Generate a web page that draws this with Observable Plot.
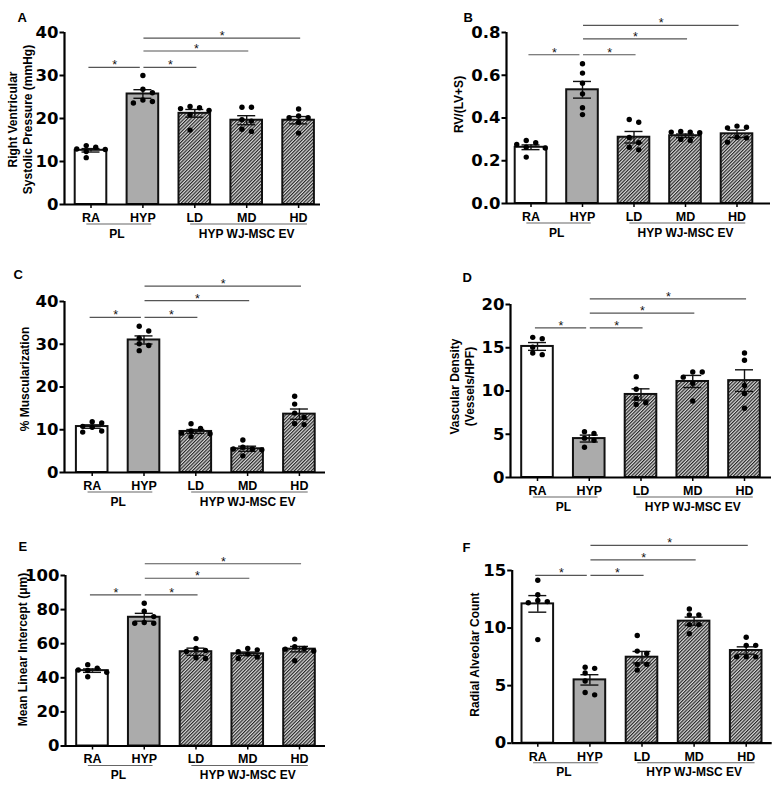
<!DOCTYPE html>
<html><head><meta charset="utf-8">
<script src="https://cdn.jsdelivr.net/npm/d3@7"></script>
<script src="https://cdn.jsdelivr.net/npm/@observablehq/plot@0.6"></script>
<style>
html,body{margin:0;padding:0;background:#fff;}
#fig{position:relative;width:780px;height:791px;overflow:hidden;background:#fff;}
</style></head><body>
<svg width="0" height="0" style="position:absolute">
 <defs>
  <pattern id="hatch" patternUnits="userSpaceOnUse" width="2.4" height="2.4" patternTransform="rotate(45)">
   <rect width="2.4" height="2.4" fill="#d8d8d8"/>
   <rect width="1.15" height="2.4" fill="#262626"/>
  </pattern>
 </defs>
</svg>
<div id="fig"></div>
<script>
// ---------- data ----------
const categories = ["RA", "HYP", "LD", "MD", "HD"];
const groupLabels = [{label: "PL", from: 0, to: 1}, {label: "HYP WJ-MSC EV", from: 2, to: 4}];
const comparisons = [[0, 1], [1, 2], [1, 3], [1, 4]];

// A: RVSP
const rvspMeans = [12.6, 25.7, 21.2, 19.6, 19.6];
const rvspSem = [0.4, 1.0, 0.9, 1.05, 0.85];
const rvspDots = [
  [13.3, 12.8, 12.9, 13.7, 12.3, 10.9],
  [30.0, 26.8, 26.0, 24.3, 23.6, 23.95],
  [22.8, 21.9, 22.5, 22.3, 20.9, 17.3],
  [22.6, 22.6, 19.4, 19.7, 17.0, 17.5],
  [22.2, 20.2, 20.6, 20.2, 19.1, 16.6]
];
const rvspBracketY = [31.9, 31.9, 35.7, 38.7];

// B: RV/(LV+S)
const fultonMeans = [0.263, 0.532, 0.31, 0.317, 0.326];
const fultonSem = [0.011, 0.039, 0.027, 0.008, 0.017];
const fultonDots = [
  [0.295, 0.284, 0.276, 0.263, 0.26, 0.217],
  [0.654, 0.61, 0.563, 0.513, 0.448, 0.416],
  [0.393, 0.38, 0.309, 0.285, 0.263, 0.251],
  [0.334, 0.337, 0.331, 0.334, 0.295, 0.30],
  [0.362, 0.354, 0.357, 0.31, 0.307, 0.287]
];
const fultonBracketY = [0.696, 0.696, 0.77, 0.833];

// C: % Muscularization
const muscMeans = [10.75, 31.0, 9.6, 5.55, 13.65];
const muscSem = [0.4, 0.95, 0.45, 0.6, 1.2];
const muscDots = [
  [11.9, 11.6, 10.8, 10.6, 9.45, 9.7],
  [34.2, 33.1, 31.4, 30.1, 29.7, 28.5],
  [11.4, 9.7, 9.2, 10.3, 9.05, 8.4],
  [7.6, 5.9, 5.5, 5.5, 5.3, 3.9],
  [17.85, 16.0, 13.9, 12.9, 11.2, 11.4]
];
const muscBracketY = [36.3, 36.3, 40.2, 43.6];

// D: Vascular density
const vascMeans = [15.15, 4.5, 9.6, 11.1, 11.2];
const vascSem = [0.45, 0.4, 0.65, 0.7, 1.25];
const vascDots = [
  [16.2, 16.05, 15.05, 14.2, 14.4],
  [5.3, 5.1, 4.55, 4.3, 3.5],
  [11.65, 10.2, 9.15, 8.45, 8.65],
  [12.2, 12.2, 11.6, 10.9, 8.85],
  [14.4, 13.55, 10.65, 9.7, 8.0]
];
const vascBracketY = [17.3, 17.3, 19.0, 20.65];

// E: Mean linear intercept
const mliMeans = [44.2, 75.5, 55.3, 54.1, 56.8];
const mliSem = [1.0, 2.3, 2.1, 1.0, 1.6];
const mliDots = [
  [47.7, 45.7, 44.6, 44.3, 43.2, 40.6],
  [83.7, 79.0, 75.9, 72.0, 72.4, 72.0],
  [63.0, 56.0, 57.2, 55.4, 51.3, 51.75],
  [57.2, 56.4, 55.3, 53.9, 52.2, 51.3],
  [62.7, 58.2, 56.8, 57.2, 55.7, 50.0]
];
const mliBracketY = [88.6, 88.6, 98.4, 106.9];

// F: Radial alveolar count
const racMeans = [12.1, 5.5, 7.47, 10.6, 8.05];
const racSem = [0.72, 0.45, 0.5, 0.35, 0.32];
const racDots = [
  [14.15, 12.9, 12.4, 12.2, 12.3, 9.0],
  [6.5, 6.6, 6.1, 5.4, 4.2, 4.4],
  [9.35, 8.0, 7.8, 6.85, 6.85, 6.35],
  [11.65, 11.15, 11.15, 10.3, 10.3, 9.5],
  [9.2, 8.5, 8.5, 7.5, 7.5, 7.5]
];
const racBracketY = [14.57, 14.57, 15.93, 17.18];

// ---------- layout ----------
const panels = [
  {letter: "A", title: "Right Ventricular\nSystolic Pressure (mmHg)", means: rvspMeans, sem: rvspSem, dots: rvspDots, bracketY: rvspBracketY,
   yMax: 40, ticks: [0, 10, 20, 30, 40], fmt: d3.format("d"),
   left: 0, top: 0, width: 390, height: 262, axisX: 64, xEnd: 320, y0: 204, yTop: 32, c0: 90.5, step: 51.9,
   titleX: 19.5, titleCY: 119, letterPos: [17, 12]},
  {letter: "B", title: "RV/(LV+S)", means: fultonMeans, sem: fultonSem, dots: fultonDots, bracketY: fultonBracketY,
   yMax: 0.8, ticks: [0, 0.2, 0.4, 0.6, 0.8], fmt: d3.format(".1f"),
   left: 390, top: 0, width: 390, height: 262, axisX: 506, xEnd: 770, y0: 203, yTop: 32, c0: 530.5, step: 51.5,
   titleX: 458, titleCY: 104, letterPos: [463, 12]},
  {letter: "C", title: "% Muscularization", means: muscMeans, sem: muscSem, dots: muscDots, bracketY: muscBracketY,
   yMax: 40, ticks: [0, 10, 20, 30, 40], fmt: d3.format("d"),
   left: 0, top: 262, width: 390, height: 262, axisX: 64, xEnd: 325, y0: 472, yTop: 301, c0: 91.7, step: 51.8,
   titleX: 24, titleCY: 378.5, letterPos: [13, 269]},
  {letter: "D", title: "Vascular Density\n(Vessels/HPF)", means: vascMeans, sem: vascSem, dots: vascDots, bracketY: vascBracketY,
   yMax: 20, ticks: [0, 5, 10, 15, 20], fmt: d3.format("d"),
   left: 390, top: 262, width: 390, height: 262, axisX: 510, xEnd: 771, y0: 477, yTop: 304, c0: 537, step: 51.75,
   titleX: 461.5, titleCY: 386, letterPos: [462, 272]},
  {letter: "E", title: "Mean Linear Intercept (μm)", means: mliMeans, sem: mliSem, dots: mliDots, bracketY: mliBracketY,
   yMax: 100, ticks: [0, 20, 40, 60, 80, 100], fmt: d3.format("d"),
   left: 0, top: 524, width: 390, height: 267, axisX: 65, xEnd: 325, y0: 745.5, yTop: 575, c0: 92, step: 51.75,
   titleX: 22, titleCY: 649, letterPos: [18, 541]},
  {letter: "F", title: "Radial Alveolar Count", means: racMeans, sem: racSem, dots: racDots, bracketY: racBracketY,
   yMax: 15, ticks: [0, 5, 10, 15], fmt: d3.format("d"),
   left: 390, top: 524, width: 390, height: 267, axisX: 511.7, xEnd: 771.7, y0: 742.7, yTop: 570, c0: 537.3, step: 52.1,
   titleX: 474, titleCY: 654, letterPos: [462, 542]}
];

// simple GraphPad-like scatter spread (pixel space)
function swarm(py) {
  const order = d3.range(py.length).sort((a, b) => py[b] - py[a]);
  const DX = 9.5, DY = 5.5, grid = DX / 2;
  const placed = [], off = new Array(py.length);
  for (const k of order) {
    let best = null;
    for (let m = 0; m < 30 && best === null; m++) {
      for (const s of (m === 0 ? [0] : [m * grid, -m * grid])) {
        if (placed.every(p => Math.abs(p.y - py[k]) >= DY || Math.abs(p.x - s) >= DX - 1e-9)) { best = s; break; }
      }
    }
    off[k] = best; placed.push({x: best, y: py[k]});
  }
  const shift = -(d3.min(off) + d3.max(off)) / 2;
  return off.map(o => o + shift);
}

const FONT = "Liberation Sans, Arial, Helvetica, sans-serif";
const fig = document.getElementById("fig");

for (const cfg of panels) {
  const {left, top, width, height, axisX, xEnd, y0, yTop, c0, step, yMax} = cfg;
  const pxPerY = (y0 - yTop) / yMax;
  const xDomain = [(axisX - c0) / step, (xEnd - c0) / step];
  const hw = 15.8 / step, cap = 9 / step;
  const bars = categories.map((name, i) => ({i, name, mean: cfg.means[i], sem: cfg.sem[i],
    kind: i === 0 ? "open" : i === 1 ? "gray" : "hatch"}));
  const dots = [];
  cfg.dots.forEach((vals, i) => {
    const offs = swarm(vals.map(v => v * pxPerY));
    vals.forEach((v, k) => dots.push({x: i + offs[k] / step, y: v}));
  });
  const brackets = comparisons.map(([a, b], k) => ({
    x1: a + (a === 1 ? 0.02 : -0.04),
    x2: b + (b === 1 ? -0.05 : 0.04),
    y: cfg.bracketY[k]
  }));
  const barOpts = {x1: d => d.i - hw, x2: d => d.i + hw, y1: 0, y2: "mean", stroke: "#111", strokeWidth: 2};
  const svg = Plot.plot({
    width, height,
    marginLeft: axisX - left, marginRight: left + width - xEnd,
    marginTop: yTop - top, marginBottom: top + height - y0,
    x: {domain: xDomain},
    y: {domain: [0, yMax]},
    style: {fontFamily: FONT, background: "transparent", overflow: "visible", color: "#000"},
    marks: [
      Plot.rectY(bars.filter(d => d.kind === "open"), {...barOpts, fill: "#ffffff"}),
      Plot.rectY(bars.filter(d => d.kind === "gray"), {...barOpts, fill: "#ababab"}),
      Plot.rectY(bars.filter(d => d.kind === "hatch"), {...barOpts, fill: "url(#hatch)"}),
      Plot.ruleX(bars, {x: "i", y1: d => d.mean - d.sem, y2: d => d.mean + d.sem, stroke: "#111", strokeWidth: 1.4}),
      Plot.ruleY(bars, {y: d => d.mean + d.sem, x1: d => d.i - cap, x2: d => d.i + cap, stroke: "#111", strokeWidth: 1.4}),
      Plot.ruleY(bars, {y: d => d.mean - d.sem, x1: d => d.i - cap, x2: d => d.i + cap, stroke: "#111", strokeWidth: 1.4}),
      Plot.dot(dots, {x: "x", y: "y", r: 2.7, fill: "#000", stroke: "none"}),
      Plot.ruleY([0], {stroke: "#000", strokeWidth: 2.2}),
      Plot.ruleX([xDomain[0]], {stroke: "#000", strokeWidth: 2.2}),
      Plot.axisY({ticks: cfg.ticks, tickFormat: cfg.fmt, tickSize: 4.5, tickPadding: 1.5, strokeWidth: 2,
        fontSize: 16.5, fontWeight: "bold", fontFamily: "DejaVu Sans", label: null}),
      Plot.axisX({ticks: [0, 1, 2, 3, 4], tickFormat: i => categories[i], tickSize: 4, tickPadding: 4.5, strokeWidth: 1.5,
        fontSize: 12.5, fontWeight: "bold", fontFamily: FONT, label: null}),
      Plot.ruleY(groupLabels, {y: 0, x1: d => d.from - 0.08, x2: d => d.to + 0.17, dy: 19.5, stroke: "#666", strokeWidth: 1.1}),
      Plot.text(groupLabels, {x: d => (d.from + d.to) / 2, y: 0, text: "label", dy: 24.5, lineAnchor: "top",
        fontSize: 12, fontWeight: "bold", fontFamily: FONT, fill: "#000"}),
      Plot.ruleY(brackets, {y: "y", x1: "x1", x2: "x2", stroke: "#555", strokeWidth: 1.2}),
      Plot.text(brackets, {x: d => (d.x1 + d.x2) / 2, y: "y", text: () => "*", dy: -2, lineAnchor: "middle",
        fontSize: 12.5, fontFamily: FONT, fill: "#111"}),
      Plot.text([cfg.title], {frameAnchor: "left", rotate: -90, dx: cfg.titleX - axisX, dy: cfg.titleCY - (y0 + yTop) / 2,
        textAnchor: "middle", lineAnchor: "middle", lineHeight: 1.25, fontSize: 12, fontWeight: "bold", fontFamily: FONT, fill: "#000"}),
      Plot.text([cfg.letter], {frameAnchor: "top-left", dx: cfg.letterPos[0] - axisX, dy: cfg.letterPos[1] - yTop,
        textAnchor: "start", lineAnchor: "top", fontSize: 13, fontWeight: "bold", fontFamily: FONT, fill: "#000"})
    ]
  });
  svg.style.position = "absolute";
  svg.style.left = left + "px";
  svg.style.top = top + "px";
  fig.appendChild(svg);
}
</script>
</body></html>
